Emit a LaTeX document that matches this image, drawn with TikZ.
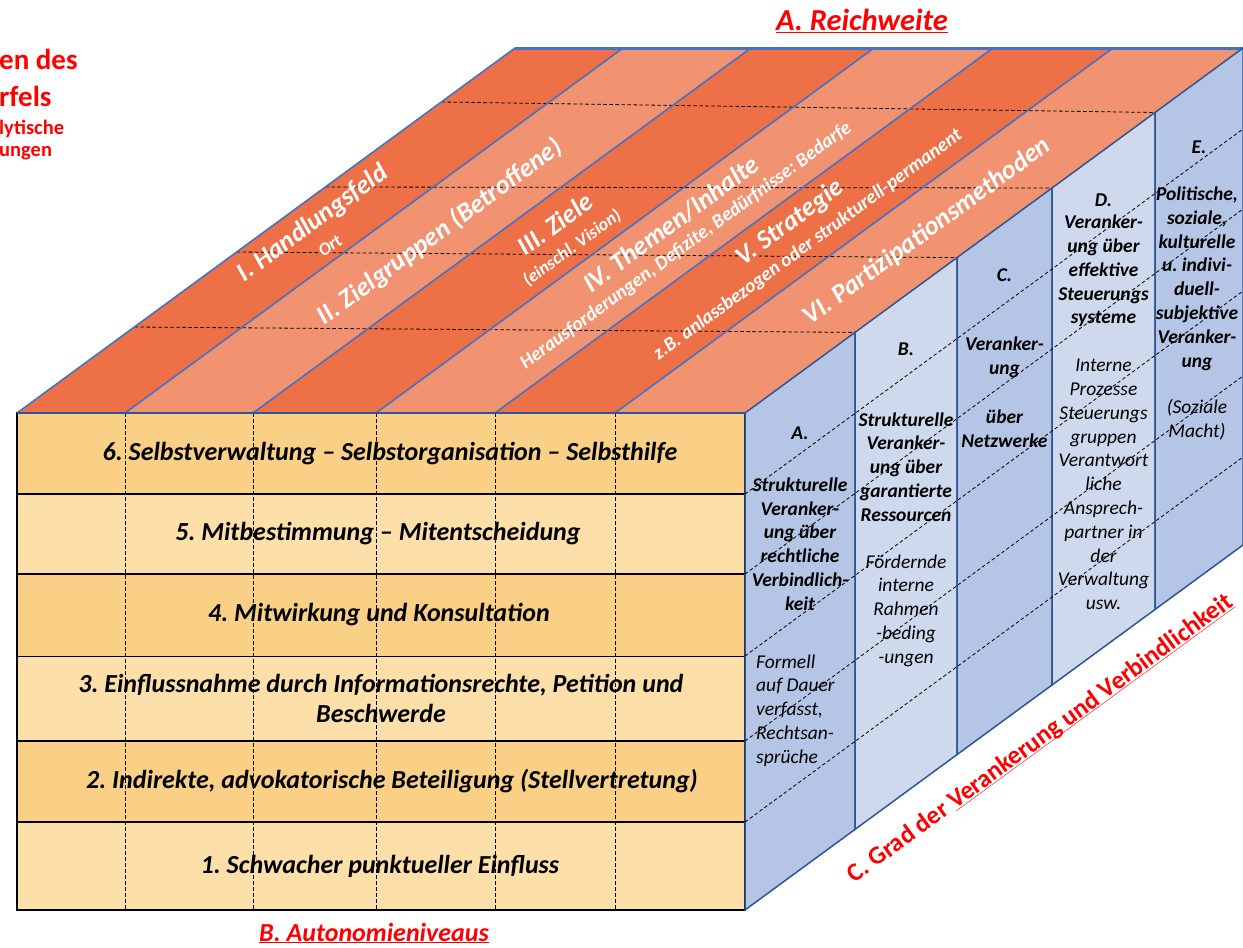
\documentclass[tikz,border=0pt]{standalone}
\usepackage{fontspec}
\setmainfont{Carlito}
\definecolor{stripeD}{RGB}{238,112,70}
\definecolor{stripeL}{RGB}{241,146,112}
\definecolor{rowD}{RGB}{249,208,133}
\definecolor{rowL}{RGB}{252,223,169}
\definecolor{panM}{RGB}{180,197,229}
\definecolor{panL}{RGB}{206,217,238}
\definecolor{edgeblue}{RGB}{47,85,151}
\definecolor{topblue}{RGB}{68,114,196}
\definecolor{lblred}{RGB}{255,0,0}
\tikzset{
  ddash/.style={black, line width=0.8pt, dash pattern=on 3.5pt off 2.5pt},
  rowtext/.style={font=\fontsize{26}{30}\selectfont\bfseries\itshape, align=center, inner sep=0pt},
  pantext/.style={font=\fontsize{19.5}{23.8}\selectfont\bfseries\itshape, align=center, inner sep=0pt},
  panital/.style={font=\fontsize{19.5}{23.8}\selectfont\itshape, align=center, inner sep=0pt},
  stripetext/.style={font=\fontsize{26.5}{30}\selectfont\bfseries\itshape, text=white, rotate=36.2, inner sep=0pt},
  stripesub/.style={font=\fontsize{18}{21}\selectfont\bfseries\itshape, text=white, rotate=36.2, inner sep=0pt},
  stripesubl/.style={font=\fontsize{19.5}{22}\selectfont\bfseries\itshape, text=white, rotate=36.2, inner sep=0pt},
  redbig/.style={font=\fontsize{30.5}{34}\selectfont\bfseries\itshape, text=lblred, inner sep=0pt},
  redmid/.style={font=\fontsize{26}{30}\selectfont\bfseries\itshape, text=lblred, inner sep=0pt},
  redlarge/.style={font=\fontsize{29}{32}\selectfont\bfseries, text=lblred, inner sep=0pt, anchor=base west},
  redsmall/.style={font=\fontsize{20.5}{24}\selectfont\bfseries, text=lblred, inner sep=0pt, anchor=base west},
  reddiag/.style={font=\fontsize{25.5}{30}\selectfont\bfseries, text=lblred, rotate=36.2, inner sep=0pt},
}
\begin{document}
\frenchspacing
\begin{tikzpicture}[x=1pt,y=-1pt]
\fill[white] (0,0) rectangle (1243,948);
\useasboundingbox (0,0) rectangle (1243,948);

% ---------- front face rows
\foreach \ya/\yb/\c in {413/494/rowD,494/574/rowL,574/656/rowD,656/741/rowL,741/822/rowD,822/910/rowL}
  \fill[\c] (17,\ya) rectangle (745,\yb);
\foreach \x in {125,253,376,495,615}
  \draw[ddash] (\x,413) -- (\x,910);
\draw[black, line width=1.5pt] (17,494) -- (745,494);
\draw[black, line width=2.5pt] (17,574) -- (745,574);
\draw[black, line width=1pt] (17,656) -- (745,656);
\draw[black, line width=2.5pt] (17,741) -- (745,741);
\draw[black, line width=1.2pt] (17,822) -- (745,822);
\draw[black, line width=1.5pt] (17,413) rectangle (745,910);

% ---------- top face stripes
\foreach \a/\b/\c in {17/125/stripeD,125/253/stripeL,253/376/stripeD,376/495/stripeL,495/615/stripeD,615/745/stripeL}
  \fill[\c] (\a,413) -- (\b,413) -- ({\b+498},48) -- ({\a+498},48) -- cycle;
\draw[ddash] (134.3,327) -- (855,332.4);
\draw[ddash] (236.7,252) -- (957,257.6);
\draw[ddash] (325.4,187) -- (1052,188);
\draw[ddash] (441.3,102) -- (1155,112.5);
\foreach \a in {17,125,253,376,495,615}
  \draw[topblue, line width=1.6pt] (\a,413) -- ({\a+498},48);
\draw[topblue, line width=3pt] (515,48) -- (1243,48);
\draw[edgeblue, line width=2pt] (17,413) -- (745,413);

% ---------- right face panels
\foreach \xa/\ya/\xb/\yb/\c in {745/413/855/332.4/panM,855/332.4/957/257.6/panL,957/257.6/1052/188/panM,1052/188/1155/112.5/panL,1155/112.5/1243/48/panM}
  \filldraw[fill=\c, draw=edgeblue, line width=1.5pt] (\xa,\ya) -- (\xb,\yb) -- (\xb,{\yb+497}) -- (\xa,{\ya+497}) -- cycle;
\foreach \y in {494,574,656,741,822}
  \draw[ddash] (745,\y) -- (1243,{\y-365});

% ---------- top face texts
\node[stripetext] (t1) at (313,223.5) {I. Handlungsfeld};
\node[stripesub] (t1s) at (330,246) {Ort};
\node[stripetext] (t2) at (440,232) {II. Zielgruppen (Betroffene)};
\node[stripetext] (t3) at (555,224) {III. Ziele};
\node[stripesub] (t3s) at (572,248) {(einschl. Vision)};
\node[stripetext] (t4) at (671,224) {IV. Themen/Inhalte};
\node[stripesubl] (t4s) at (686,246) {Herausforderungen, Defizite, Bedürfnisse: Bedarfe};
\node[stripetext] (t5) at (790,223) {V. Strategie};
\node[stripesubl] (t5s) at (808,245) {z.B. anlassbezogen oder strukturell-permanent};
\node[stripetext] (t6) at (927,231.5) {VI. Partizipationsmethoden};

% ---------- front row texts
\node[rowtext] (r6) at (390,454) {6. Selbstverwaltung – Selbstorganisation – Selbsthilfe};
\node[rowtext] (r5) at (378,534) {5. Mitbestimmung – Mitentscheidung};
\node[rowtext] (r4) at (379,615) {4. Mitwirkung und Konsultation};
\node[rowtext] (r3) at (381,698.5) {3. Einflussnahme durch Informationsrechte, Petition und\\Beschwerde};
\node[rowtext] (r2) at (392,781.5) {2. Indirekte, advokatorische Beteiligung (Stellvertretung)};
\node[rowtext] (r1) at (380,866) {1. Schwacher punktueller Einfluss};

% ---------- right panel texts
\node[pantext] (pA) at (800,433) {A.};
\node[pantext] (pAb) at (800,544) {Strukturelle\\Veranker-\\ung über\\rechtliche\\Verbindlich-\\keit};
\node[panital, align=left, anchor=west] (pAi) at (756,710.5) {Formell\\auf Dauer\\verfasst,\\Rechtsan-\\sprüche};
\node[pantext] (pB) at (906,349) {B.};
\node[pantext] (pBb) at (906,467) {Strukturelle\\Veranker-\\ung über\\garantierte\\Ressourcen};
\node[panital] (pBi) at (906,610.5) {Fördernde\\interne\\Rahmen\\-beding\\-ungen};
\node[pantext] (pC) at (1004.5,275) {C.};
\node[pantext] (pCb) at (1004.5,357.5) {Veranker-\\ung};
\node[pantext] (pCc) at (1004.5,429) {über\\Netzwerke};
\node[pantext] (pD) at (1103.5,200) {D.};
\node[pantext] (pDb) at (1103.5,271) {Veranker-\\ung über\\effektive\\Steuerungs\\systeme};
\node[panital] (pDi) at (1103.5,484.5) {Interne\\Prozesse\\Steuerungs\\gruppen\\Verantwort\\liche\\Ansprech-\\partner in\\der\\Verwaltung\\usw.};
\node[pantext] (pE) at (1199,147) {E.};
\node[pantext] (pEb) at (1197,278.5) {Politische,\\soziale,\\kulturelle\\u. indivi-\\duell-\\subjektive\\Veranker-\\ung};
\node[panital] (pEi) at (1197,419.5) {(Soziale\\Macht)};

% ---------- red labels
\node[redbig] (lA) at (862,21) {\underline{A. Reichweite}};
\node[redmid] (lB) at (374,933) {\underline{B. Autonomieniveaus}};
\node[reddiag] (lC) at (1040,738) {C. Grad der \underline{\smash{Verankerung und Verbindlichkeit}}};
\node[redlarge] (h1) at (-1,69) {en des};
\node[redlarge] (h2) at (-1,106) {rfels};
\node[redsmall] (h3) at (-1,134) {lytische};
\node[redsmall] (h4) at (-1,156) {ungen};
\end{tikzpicture}
\end{document}
